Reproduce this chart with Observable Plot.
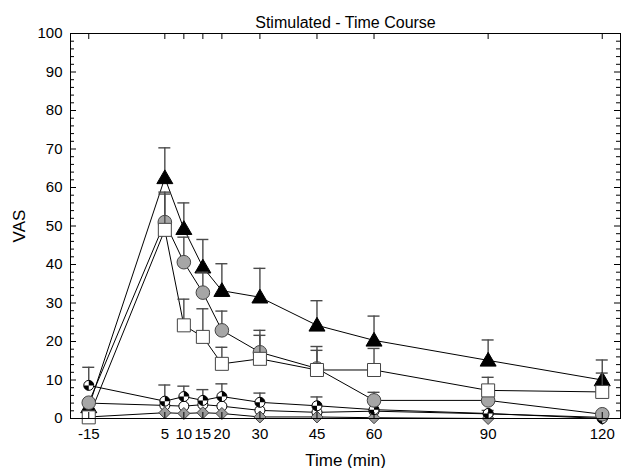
<!DOCTYPE html>
<html>
<head>
<meta charset="utf-8">
<script src="https://cdn.jsdelivr.net/npm/d3@7"></script>
<script src="https://cdn.jsdelivr.net/npm/@observablehq/plot@0.6"></script>
<style>
  html, body { margin: 0; padding: 0; background: #fff; }
  #chart svg { display: block; }
</style>
</head>
<body>
<div id="chart"></div>
<script>
// ---- data ----
const times = [-15, 5, 10, 15, 20, 30, 45, 60, 90, 120];
const xTickLabels = [-15, 5, 10, 15, 20, 30, 45, 60, 90, 120];
const yTickLabels = [0, 10, 20, 30, 40, 50, 60, 70, 80, 90, 100];
const yMinorTicks = d3.range(0, 101, 2).filter(v => v % 10 !== 0);

const triValues    = [3, 62.5, 49.3, 39.3, 33.2, 31.5, 24.2, 20.3, 15.1, 10];
const triTops      = [null, 70.3, 56, 46.5, 40.2, 39, 30.6, 26.6, 20.4, 15.2];
const circleValues = [4.1, 51, 40.6, 32.7, 22.9, 17.2, 13, 4.7, 4.7, 1.1];
const circleTops   = [null, 58.8, 47.1, 38, 27.9, 22.9, 18.7, 6.8, null, null];
const squareValues = [0.3, 49, 24.2, 21.2, 14.2, 15.5, 12.6, 12.6, 7.3, 6.9];
const squareTops   = [null, 58.3, 31, 28.5, 18.5, 21.6, 17.7, 18.2, 10.7, 11.8];
const quarterValues = [8.6, 4.5, 5.7, 4.7, 5.7, 4.2, 3.3, 2.3, 1.3, 0];
const quarterTops   = [13.3, 8.7, 8.4, 7.5, 9, 6.6, 5.6, null, 2.1, null];
const whiteValues   = [4, 3.4, 3.2, 3.6, 3.2, 2.1, 1.6, 1.9, 1.2, 0.3];
const diamondValues = [0.4, 1.5, 1.3, 1.5, 1.3, 0.4, 0.4, 0.2, 0, 0];

const titleText = "Stimulated - Time Course";
const xLabel = "Time (min)";
const yLabel = "VAS";

// ---- helpers ----
function rows(values, tops) {
  return times.map((t, i) => ({t, v: values[i], top: tops ? tops[i] : null}));
}
const tri = rows(triValues, triTops);
const circ = rows(circleValues, circleTops);
const sq = rows(squareValues, squareTops);
const quart = rows(quarterValues, quarterTops);
const white = rows(whiteValues, null);
const diam = rows(diamondValues, null);

// custom symbols (size = pi r^2)
const rOf = s => Math.sqrt(s / Math.PI);
const symTri = {draw(c, s) { const r = rOf(s); c.moveTo(0, -r); c.lineTo(r, 0.72 * r); c.lineTo(-r, 0.72 * r); c.closePath(); }};
const symSq = {draw(c, s) { const r = rOf(s); c.rect(-r, -r, 2 * r, 2 * r); }};
const symDia = {draw(c, s) { const r = rOf(s); c.moveTo(0, -r); c.lineTo(r, 0); c.lineTo(0, r); c.lineTo(-r, 0); c.closePath(); }};
const symQuarters = {draw(c, s) {
  const r = rOf(s);
  c.moveTo(0, 0); c.lineTo(0, -r); c.arc(0, 0, r, -Math.PI / 2, 0); c.closePath();
  c.moveTo(0, 0); c.lineTo(0, r); c.arc(0, 0, r, Math.PI / 2, Math.PI); c.closePath();
}};

const W = 623, H = 468;
const mL = 70, mR = 3, mT = 33, mB = 50;
const plotW = W - mL - mR, plotH = H - mT - mB;
const errColor = "#4a4a4a";

function errMarks(data) {
  const d = data.filter(r => r.top != null);
  return [
    Plot.ruleX(d, {x: "t", y1: "v", y2: "top", stroke: errColor, strokeWidth: 1.4}),
    Plot.ruleY(d, {y: "top", x1: "t", x2: "t", insetLeft: -6, insetRight: -6, stroke: errColor, strokeWidth: 1.4})
  ];
}
const lineOpts = {x: "t", y: "v", stroke: "#000", strokeWidth: 1};

const chart = Plot.plot({
  width: W, height: H,
  marginLeft: mL, marginRight: mR, marginTop: mT, marginBottom: mB,
  style: {fontFamily: "'Liberation Sans', Arial, sans-serif", fontSize: "15px", color: "#000", background: "#fff"},
  x: {domain: [-19.8, 124.8], label: null},
  y: {domain: [0, 100], label: null},
  marks: [
    // lines
    Plot.line(white, lineOpts),
    Plot.line(diam, lineOpts),
    Plot.line(quart, lineOpts),
    Plot.line(tri, lineOpts),
    Plot.line(circ, lineOpts),
    Plot.line(sq, lineOpts),
    // white circles
    Plot.dot(white, {x: "t", y: "v", r: 5, fill: "#fff", stroke: "#000", strokeWidth: 1}),
    // diamonds
    Plot.dot(diam, {x: "t", y: "v", r: 6, symbol: symDia, fill: "#9a9a9a", stroke: "#444", strokeWidth: 1}),
    // quartered circles
    ...errMarks(quart),
    Plot.dot(quart, {x: "t", y: "v", r: 5, fill: "#fff", stroke: "#000", strokeWidth: 1}),
    Plot.dot(quart, {x: "t", y: "v", r: 5, symbol: symQuarters, fill: "#000", stroke: "none"}),
    // triangles
    ...errMarks(tri),
    Plot.dot(tri, {x: "t", y: "v", r: 8, symbol: symTri, fill: "#000", stroke: "#000", strokeWidth: 1}),
    // gray circles
    ...errMarks(circ),
    Plot.dot(circ, {x: "t", y: "v", r: 6.8, fill: "#a6a6a6", stroke: "#444", strokeWidth: 1}),
    // squares
    ...errMarks(sq),
    Plot.dot(sq, {x: "t", y: "v", r: 6.5, symbol: symSq, fill: "#fff", stroke: "#444", strokeWidth: 1}),
    // frame
    Plot.frame({stroke: "#000", strokeWidth: 1}),
    // inward ticks
    Plot.tickY(yTickLabels, {y: d => d, insetRight: plotW - 6, stroke: "#000"}),
    Plot.tickY(yMinorTicks, {y: d => d, insetRight: plotW - 4, stroke: "#000"}),
    Plot.tickY(yTickLabels, {y: d => d, insetLeft: plotW - 6, stroke: "#000"}),
    Plot.tickY(yMinorTicks, {y: d => d, insetLeft: plotW - 4, stroke: "#000"}),
    Plot.tickX(xTickLabels, {x: d => d, insetTop: plotH - 6, stroke: "#000"}),
    Plot.tickX(xTickLabels, {x: d => d, insetBottom: plotH - 6, stroke: "#000"}),
    // axes
    Plot.axisX(xTickLabels, {tickSize: 0, tickPadding: 10, fontSize: 15, tickFormat: d => String(d), label: null}),
    Plot.axisY(yTickLabels, {tickSize: 0, tickPadding: 8, fontSize: 15, tickFormat: d => String(d), label: null}),
    Plot.axisX({tickSize: 0, ticks: [], fontSize: 17, label: xLabel, labelAnchor: "center", labelArrow: "none", labelOffset: 47}),
    Plot.axisY({tickSize: 0, ticks: [], fontSize: 17, label: yLabel, labelAnchor: "center", labelArrow: "none", labelOffset: 58}),
    // title
    Plot.text([titleText], {text: d => d, frameAnchor: "top", dy: -17, fontSize: 16, fill: "#000"})
  ]
});
document.getElementById("chart").appendChild(chart);
</script>
</body>
</html>
